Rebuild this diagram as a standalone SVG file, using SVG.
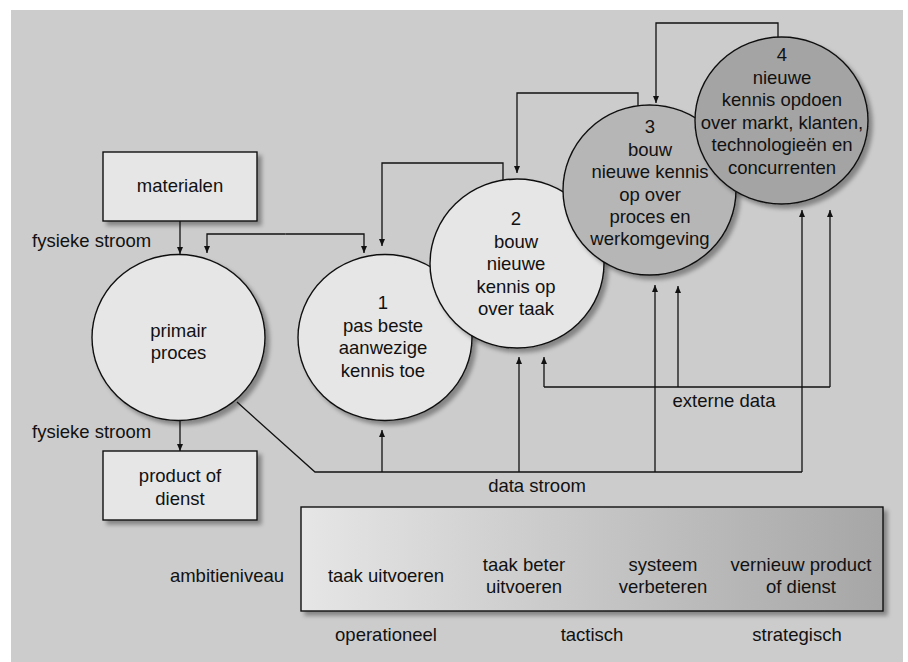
<svg xmlns="http://www.w3.org/2000/svg" width="908" height="662" viewBox="0 0 908 662">
<style>
  text { font-family: "Liberation Sans", Arial, sans-serif; font-size: 18.5px; fill: #111; text-anchor: middle; }
  .lbl { text-anchor: start; }
  .shape { stroke: #111; stroke-width: 1.4; }
  .light { fill: #e6e6e6; }
  .c3 { fill: #b6b6b6; }
  .c4 { fill: #a4a4a4; }
  .conn path { fill: none; stroke: #111; stroke-width: 1.3; }
  .conn path.arr { marker-end: url(#ah); }
</style>
<defs>
  <marker id="ah" markerWidth="7" markerHeight="6" refX="7" refY="3" orient="auto" markerUnits="userSpaceOnUse">
    <path d="M0,0 L7,3 L0,6 z" fill="#111"/>
  </marker>
  <filter id="sh" x="-20%" y="-20%" width="140%" height="140%">
    <feDropShadow dx="4" dy="4" stdDeviation="2.2" flood-color="#000" flood-opacity="0.35"/>
  </filter>
  <linearGradient id="grad" x1="0" y1="0" x2="1" y2="0">
    <stop offset="0" stop-color="#e6e6e6"/>
    <stop offset="1" stop-color="#a6a6a6"/>
  </linearGradient>
</defs>
<rect x="11" y="10" width="892" height="652" fill="#cccccc"/>

<g id="node-materialen">
  <rect class="shape light" x="103" y="152" width="154" height="69" filter="url(#sh)"/>
  <text x="180" y="192">materialen</text>
</g>
<g id="node-product">
  <rect class="shape light" x="103" y="451" width="154" height="69" filter="url(#sh)"/>
  <text x="180" y="482">product of</text>
  <text x="180" y="505">dienst</text>
</g>
<g id="node-primair">
  <ellipse class="shape light" cx="178.5" cy="337.5" rx="86.5" ry="83" filter="url(#sh)"/>
  <text x="178.5" y="337">primair</text>
  <text x="178.5" y="359">proces</text>
</g>
<g id="node-1">
  <ellipse class="shape light" cx="385" cy="337.5" rx="87" ry="83" filter="url(#sh)"/>
  <text x="383" y="309">1</text>
  <text x="383" y="331.5">pas beste</text>
  <text x="383" y="354">aanwezige</text>
  <text x="383" y="376.5">kennis toe</text>
</g>
<g id="node-2">
  <ellipse class="shape light" cx="517" cy="263.5" rx="87" ry="84.5" filter="url(#sh)"/>
  <text x="516" y="225">2</text>
  <text x="516" y="247.5">bouw</text>
  <text x="516" y="270">nieuwe</text>
  <text x="516" y="292.5">kennis op</text>
  <text x="516" y="315">over taak</text>
</g>
<g id="node-3">
  <ellipse class="shape c3" cx="649.5" cy="190" rx="86.5" ry="85" filter="url(#sh)"/>
  <text x="650" y="133">3</text>
  <text x="650" y="155.5">bouw</text>
  <text x="650" y="178">nieuwe kennis</text>
  <text x="650" y="200.5">op over</text>
  <text x="650" y="223">proces en</text>
  <text x="650" y="245">werkomgeving</text>
</g>
<g id="node-4">
  <ellipse class="shape c4" cx="781.5" cy="120.5" rx="86.5" ry="83.5" filter="url(#sh)"/>
  <text x="782" y="61">4</text>
  <text x="782" y="83.5">nieuwe</text>
  <text x="782" y="106">kennis opdoen</text>
  <text x="782" y="128.5">over markt, klanten,</text>
  <text x="782" y="151">technologieën en</text>
  <text x="782" y="173.5">concurrenten</text>
</g>

<g id="connectors" class="conn">
  <path class="arr" d="M180,221 V254"/>
  <path class="arr" d="M180,420 V451"/>
  <path class="arr" d="M285.5,234 H207 V253"/>
  <path class="arr" d="M285.5,234 H364 V253"/>
  <path class="arr" d="M503,180 V163 H382 V246"/>
  <path class="arr" d="M638,106 V93 H517 V173"/>
  <path class="arr" d="M778,37 V23 H656 V103"/>
  <path d="M237,402 L315,472 H802"/>
  <path class="arr" d="M382,472 V430"/>
  <path class="arr" d="M519,472 V357"/>
  <path class="arr" d="M655,472 V285"/>
  <path class="arr" d="M802,472 V210"/>
  <path d="M544,387 H830"/>
  <path class="arr" d="M544,387 V357"/>
  <path class="arr" d="M678,387 V286"/>
  <path class="arr" d="M830,387 V210"/>
</g>

<g id="labels">
  <text class="lbl" x="32" y="247">fysieke stroom</text>
  <text class="lbl" x="32" y="438">fysieke stroom</text>
  <text x="724" y="407">externe data</text>
  <text x="537" y="492">data stroom</text>
</g>

<g id="node-ambitie">
  <rect class="shape" x="301" y="507" width="582" height="104" fill="url(#grad)" filter="url(#sh)"/>
  <text x="386" y="582">taak uitvoeren</text>
  <text x="524" y="571">taak beter</text>
  <text x="524" y="593">uitvoeren</text>
  <text x="663" y="571">systeem</text>
  <text x="663" y="593">verbeteren</text>
  <text x="801" y="571">vernieuw product</text>
  <text x="801" y="593">of dienst</text>
</g>
<g id="scale-labels">
  <text x="227" y="582">ambitieniveau</text>
  <text x="386" y="641">operationeel</text>
  <text x="592" y="641">tactisch</text>
  <text x="797" y="641">strategisch</text>
</g>
</svg>
